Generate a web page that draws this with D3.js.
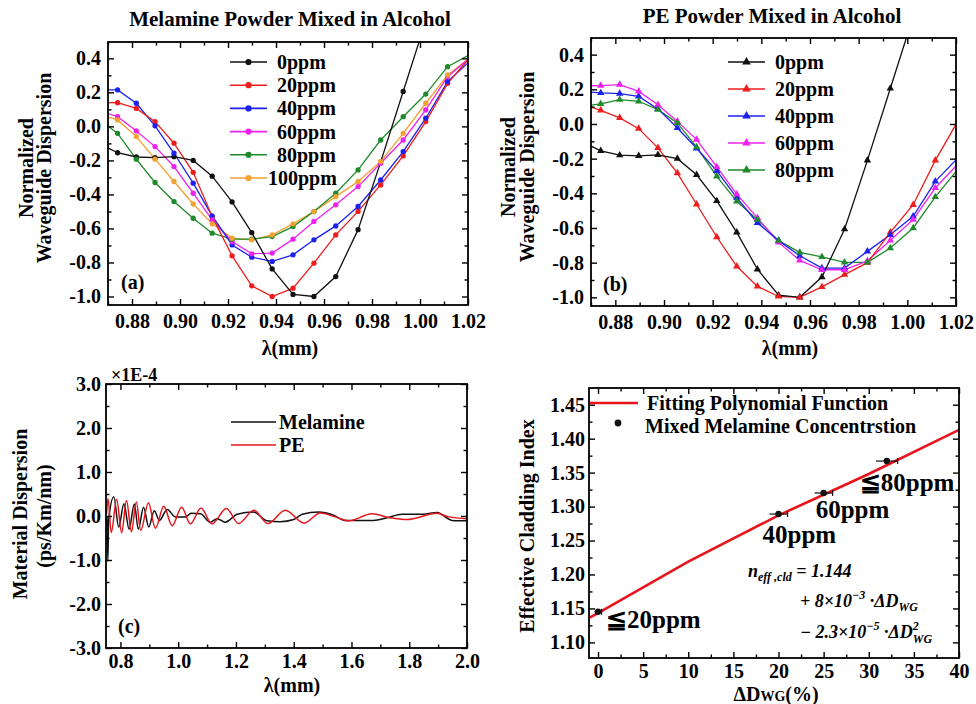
<!DOCTYPE html>
<html>
<head>
<meta charset="utf-8">
<script src="https://cdn.jsdelivr.net/npm/d3@7"></script>
<style>
body { margin: 0; background: #fff; }
</style>
</head>
<body>
<svg id="fig" width="976" height="704"></svg>
<script>
var SERIF = '"Liberation Serif","Times New Roman",serif';

// (a),(b): wavelength samples; first and last fall just outside the frame
var lam = [0.8655, 0.8740, 0.8818, 0.8896, 0.8975, 0.9055, 0.9134, 0.9217, 0.9299, 0.9384,
           0.9471, 0.9558, 0.9649, 0.9742, 0.9836, 0.9930, 1.0024, 1.0115, 1.0205];
// 0ppm is the same reference curve in both panels
var ppm0   = [-0.095, -0.155, -0.18, -0.184, -0.178, -0.2, -0.293, -0.444, -0.625, -0.838,
              -0.988, -1.0, -0.883, -0.607, -0.21, 0.205, 0.62, 1.0, 1.4];
var mel20  = [0.14, 0.139, 0.106, 0.028, -0.099, -0.27, -0.53, -0.761, -0.937, -1.0,
              -0.951, -0.804, -0.638, -0.50, -0.344, -0.174, 0.028, 0.253, 0.40];
var mel40  = [0.215, 0.214, 0.136, 0.003, -0.158, -0.334, -0.526, -0.697, -0.769, -0.794,
              -0.755, -0.667, -0.585, -0.471, -0.315, -0.148, 0.048, 0.263, 0.38];
var mel60  = [0.095, 0.057, -0.027, -0.119, -0.236, -0.393, -0.55, -0.677, -0.749, -0.745,
              -0.663, -0.559, -0.461, -0.354, -0.217, -0.08, 0.097, 0.292, 0.40];
var mel80  = [0.05, -0.041, -0.193, -0.33, -0.442, -0.54, -0.628, -0.663, -0.663, -0.648,
              -0.589, -0.501, -0.393, -0.256, -0.08, 0.057, 0.19, 0.351, 0.42];
var mel100 = [0.075, 0.038, -0.06, -0.193, -0.324, -0.456, -0.573, -0.657, -0.667, -0.638,
              -0.573, -0.501, -0.413, -0.324, -0.207, -0.041, 0.136, 0.302, 0.40];
var pe20   = [0.12, 0.079, 0.035, -0.027, -0.138, -0.283, -0.463, -0.652, -0.821, -0.937,
              -0.995, -1.0, -0.94, -0.869, -0.80, -0.625, -0.466, -0.21, 0.01];
var pe40   = [0.19, 0.179, 0.175, 0.159, 0.087, -0.023, -0.14, -0.27, -0.425, -0.571,
              -0.673, -0.76, -0.831, -0.831, -0.735, -0.639, -0.533, -0.331, -0.20];
var pe60   = [0.22, 0.221, 0.227, 0.188, 0.111, 0.015, -0.09, -0.248, -0.405, -0.542,
              -0.683, -0.787, -0.841, -0.841, -0.79, -0.671, -0.552, -0.369, -0.235];
var pe80   = [0.10, 0.116, 0.14, 0.131, 0.083, 0.006, -0.133, -0.302, -0.446, -0.552,
              -0.673, -0.741, -0.767, -0.798, -0.798, -0.716, -0.6, -0.421, -0.265];
var melNames = ["0ppm", "20ppm", "40ppm", "60ppm", "80ppm", "100ppm"];
var peNames  = ["0ppm", "20ppm", "40ppm", "60ppm", "80ppm"];
var colors   = ["#111111", "#ee1c1c", "#1c22ee", "#ee22ee", "#1f8a2a", "#f2a232"];

// (c): material dispersion, x1E-4
var cLamMel = [0.7535, 0.7565, 0.759, 0.777, 0.794, 0.812, 0.830, 0.848, 0.862, 0.880, 0.898, 0.917,
               0.935, 0.962, 0.990, 1.025, 1.045, 1.077, 1.111, 1.135, 1.163, 1.204, 1.261, 1.308,
               1.353, 1.400, 1.430, 1.486, 1.538, 1.578, 1.676, 1.723, 1.775, 1.850, 1.896, 1.948, 2.000];
var cMel    = [0.0, -1.03, -0.1, 0.44, -0.25, 0.28, -0.30, 0.27, -0.30, 0.20, -0.25, 0.12,
               -0.10, 0.15, -0.02, -0.02, 0.06, 0.05, -0.14, -0.06, -0.14, 0.04, 0.09, -0.11,
               -0.13, -0.08, 0.04, 0.09, 0.02, -0.10, -0.10, -0.04, 0.04, 0.04, 0.08, -0.10, -0.11];
var cLamPE  = [0.752, 0.757, 0.768, 0.787, 0.804, 0.821, 0.838, 0.855, 0.870, 0.897, 0.921, 0.950,
               0.979, 1.012, 1.042, 1.079, 1.117, 1.167, 1.209, 1.262, 1.310, 1.371, 1.436, 1.492,
               1.544, 1.590, 1.671, 1.734, 1.792, 1.896, 1.936, 2.000];
var cPE     = [0.05, 0.40, -0.38, 0.38, -0.38, 0.35, -0.36, 0.32, -0.33, 0.30, -0.28, 0.22,
               -0.22, 0.20, -0.18, 0.18, -0.18, 0.17, -0.17, 0.13, -0.17, 0.13, -0.16, 0.07,
               -0.02, -0.11, 0.05, -0.04, -0.08, 0.06, -0.02, -0.06];

// (d): effective cladding index vs delta D_WG
var dwg    = [0, 20, 25, 32];
var nEff   = [1.145, 1.289, 1.32, 1.367];
var dwgErr = [0.4, 1.0, 1.0, 1.2];
var fitDwg = [-1, 0, 10, 20, 30, 40];
var fitN   = [1.136, 1.143, 1.219, 1.287, 1.348, 1.413];
var concNames = ["\u226620ppm", "40ppm", "60ppm", "\u226680ppm"];

// tick values
var abX = [0.88, 0.90, 0.92, 0.94, 0.96, 0.98, 1.00, 1.02];
var abXMinor = [0.87, 0.89, 0.91, 0.93, 0.95, 0.97, 0.99, 1.01];
var abY = [-1.0, -0.8, -0.6, -0.4, -0.2, 0.0, 0.2, 0.4];
var abYMinor = [-0.9, -0.7, -0.5, -0.3, -0.1, 0.1, 0.3];
var cX = [0.8, 1.0, 1.2, 1.4, 1.6, 1.8, 2.0];
var cXMinor = [0.9, 1.1, 1.3, 1.5, 1.7, 1.9];
var cY = [-3, -2, -1, 0, 1, 2, 3];
var cYMinor = [-2.5, -1.5, -0.5, 0.5, 1.5, 2.5];
var dX = [0, 5, 10, 15, 20, 25, 30, 35, 40];
var dXMinor = [2.5, 7.5, 12.5, 17.5, 22.5, 27.5, 32.5, 37.5];
var dY = [1.10, 1.15, 1.20, 1.25, 1.30, 1.35, 1.40, 1.45];
var dYMinor = [1.125, 1.175, 1.225, 1.275, 1.325, 1.375, 1.425];

var svg = d3.select("#fig");
svg.append("rect").attr("width", 976).attr("height", 704).attr("fill", "#fff");

function fmt1(d) { return (d < 0 ? "-" : "") + Math.abs(d).toFixed(1); }
function fmt2(d) { return Math.abs(d).toFixed(2); }
function fmt0(d) { return String(d); }

function txt(g, x, y, s, size, anchor) {
    return g.append("text").attr("x", x).attr("y", y)
        .attr("font-family", SERIF).attr("font-weight", "bold")
        .attr("font-size", size || 20)
        .attr("text-anchor", anchor || "start").text(s);
}

function vtxt(g, x, y, s, size) {
    return g.append("text").attr("transform", "translate(" + x + "," + y + ") rotate(-90)")
        .attr("font-family", SERIF).attr("font-weight", "bold")
        .attr("font-size", size || 20).attr("text-anchor", "middle").text(s);
}

function ticks(g, axis, tr, vals, size, fmt, pad) {
    axis.tickValues(vals).tickSize(-size).tickPadding(pad || 0)
        .tickFormat(fmt || function () { return ""; });
    var a = g.append("g").attr("transform", tr).call(axis);
    a.select(".domain").remove();
    a.selectAll("line").attr("stroke-width", 1.4);
    a.attr("font-family", SERIF).attr("font-size", 20).attr("font-weight", "bold");
}

function panel(o) {
    var x = d3.scaleLinear().domain(o.xd).range([o.x0, o.x1]);
    var y = d3.scaleLinear().domain(o.yd).range([o.y1, o.y0]);
    var g = svg.append("g");
    g.append("clipPath").attr("id", "clip" + o.id).append("rect")
        .attr("x", o.x0).attr("y", o.y0)
        .attr("width", o.x1 - o.x0).attr("height", o.y1 - o.y0);
    var plot = g.append("g").attr("clip-path", "url(#clip" + o.id + ")");

    ticks(g, d3.axisBottom(x), "translate(0," + o.y1 + ")", o.xt, 6, o.xf, o.xpad);
    ticks(g, d3.axisBottom(x), "translate(0," + o.y1 + ")", o.xm, 3.5);
    ticks(g, d3.axisTop(x), "translate(0," + o.y0 + ")", o.xt, 6);
    ticks(g, d3.axisTop(x), "translate(0," + o.y0 + ")", o.xm, 3.5);
    ticks(g, d3.axisLeft(y), "translate(" + o.x0 + ",0)", o.yt, 6, o.yf, o.ypad);
    ticks(g, d3.axisLeft(y), "translate(" + o.x0 + ",0)", o.ym, 3.5);
    ticks(g, d3.axisRight(y), "translate(" + o.x1 + ",0)", o.yt, 6);
    ticks(g, d3.axisRight(y), "translate(" + o.x1 + ",0)", o.ym, 3.5);

    g.append("rect").attr("x", o.x0).attr("y", o.y0)
        .attr("width", o.x1 - o.x0).attr("height", o.y1 - o.y0)
        .attr("fill", "none").attr("stroke", "#000").attr("stroke-width", 1.8);
    return { g: g, plot: plot, x: x, y: y };
}

// ---------- (a) and (b) ----------
function dispersionPanel(o, series, names, marker, leg) {
    var p = panel(o);
    var line = d3.line()
        .x(function (d) { return p.x(d[0]); })
        .y(function (d) { return p.y(d[1]); });
    var shape = marker === "tri" ? d3.symbolTriangle : d3.symbolCircle;
    var size = marker === "tri" ? 24 : 22;
    series.forEach(function (vals, i) {
        var pts = lam.map(function (l, k) { return [l, vals[k]]; });
        var c = colors[i];
        p.plot.insert("path", ":first-child").attr("d", line(pts))
            .attr("fill", "none").attr("stroke", c).attr("stroke-width", 1.3);
        p.plot.append("g").selectAll("path").data(pts.slice(1, pts.length - 1)).enter()
            .append("path")
            .attr("transform", function (d) { return "translate(" + p.x(d[0]) + "," + p.y(d[1]) + ")"; })
            .attr("d", d3.symbol().type(shape).size(size))
            .attr("fill", c);
    });
    // legend
    names.forEach(function (n, i) {
        var yy = leg.y + i * leg.dy;
        p.g.append("line").attr("x1", leg.x).attr("x2", leg.x + 37)
            .attr("y1", yy).attr("y2", yy).attr("stroke", colors[i]).attr("stroke-width", 1.6);
        p.g.append("path").attr("transform", "translate(" + (leg.x + 18.5) + "," + yy + ")")
            .attr("d", d3.symbol().type(shape).size(size + 8)).attr("fill", colors[i]);
        txt(p.g, n === "100ppm" ? leg.x + 38 : leg.x + 47, yy + 7, n);
    });
    return p;
}

var pa = dispersionPanel({ id: "a", x0: 108, x1: 468, y0: 42, y1: 305,
        xd: [0.87, 1.02], yd: [-1.05, 0.496], xt: abX, xm: abXMinor, yt: abY, ym: abYMinor,
        xf: function (d) { return d.toFixed(2); }, yf: fmt1, xpad: 9, ypad: 7 },
    [ppm0, mel20, mel40, mel60, mel80, mel100], melNames, "circle", { x: 230, y: 62, dy: 23.2 });
txt(pa.g, 290, 26, "Melamine Powder Mixed in Alcohol", 21, "middle");
vtxt(pa.g, 33, 168, "Normalized");
vtxt(pa.g, 51, 168, "Waveguide Dispersion");
txt(pa.g, 290, 355, "\u03bb(mm)", 20, "middle");
txt(pa.g, 121, 289, "(a)");

var pb = dispersionPanel({ id: "b", x0: 591, x1: 956, y0: 38, y1: 306,
        xd: [0.87, 1.02], yd: [-1.05, 0.496], xt: abX, xm: abXMinor, yt: abY, ym: abYMinor,
        xf: function (d) { return d.toFixed(2); }, yf: fmt1, xpad: 9, ypad: 7 },
    [ppm0, pe20, pe40, pe60, pe80], peNames, "tri", { x: 728, y: 62, dy: 27 });
txt(pb.g, 772, 23, "PE Powder Mixed in Alcohol", 21, "middle");
vtxt(pb.g, 515, 167, "Normalized");
vtxt(pb.g, 534, 167, "Waveguide Dispersion");
txt(pb.g, 790, 355, "\u03bb(mm)", 20, "middle");
txt(pb.g, 603, 291, "(b)");

// ---------- (c) ----------
var pc = panel({ id: "c", x0: 106, x1: 467, y0: 384, y1: 648,
    xd: [0.75, 2.0], yd: [-3, 3], xt: cX, xm: cXMinor, yt: cY, ym: cYMinor,
    xf: fmt1, yf: fmt1, xpad: 6, ypad: 5 });
var cline = d3.line()
    .curve(d3.curveMonotoneX)
    .x(function (d) { return pc.x(d[0]); })
    .y(function (d) { return pc.y(d[1]); });
pc.plot.append("path")
    .attr("d", cline(cLamMel.map(function (l, i) { return [l, cMel[i]]; })))
    .attr("fill", "none").attr("stroke", "#111").attr("stroke-width", 1.5);
pc.plot.append("path")
    .attr("d", cline(cLamPE.map(function (l, i) { return [l, cPE[i]]; })))
    .attr("fill", "none").attr("stroke", "#e8141c").attr("stroke-width", 1.5);
pc.g.append("line").attr("x1", 231).attr("x2", 276).attr("y1", 422).attr("y2", 422)
    .attr("stroke", "#111").attr("stroke-width", 1.6);
txt(pc.g, 279, 429, "Melamine");
pc.g.append("line").attr("x1", 231).attr("x2", 276).attr("y1", 445).attr("y2", 445)
    .attr("stroke", "#e8141c").attr("stroke-width", 1.6);
txt(pc.g, 279, 452, "PE");
txt(pc.g, 111, 381, "\u00d71E-4", 18);
vtxt(pc.g, 27, 514, "Material Dispersion");
vtxt(pc.g, 51, 516, "(ps/Km/nm)");
txt(pc.g, 292, 692, "\u03bb(mm)", 20, "middle");
txt(pc.g, 118, 633, "(c)");

// ---------- (d) ----------
var pd = panel({ id: "d", x0: 589, x1: 959, y0: 388, y1: 658,
    xd: [-1, 40], yd: [1.077, 1.4746], xt: dX, xm: dXMinor, yt: dY, ym: dYMinor,
    xf: fmt0, yf: fmt2, xpad: 6, ypad: 4 });
pd.plot.append("path")
    .attr("d", d3.line()
        .x(function (d) { return pd.x(d[0]); })
        .y(function (d) { return pd.y(d[1]); })(fitDwg.map(function (v, i) { return [v, fitN[i]]; })))
    .attr("fill", "none").attr("stroke", "#e8141c").attr("stroke-width", 2.6);
var pts = pd.plot.append("g").selectAll("g")
    .data(dwg.map(function (v, i) { return { x: v, y: nEff[i], e: dwgErr[i] }; }))
    .enter().append("g");
pts.append("line")
    .attr("x1", function (d) { return pd.x(d.x - d.e); })
    .attr("x2", function (d) { return pd.x(d.x + d.e); })
    .attr("y1", function (d) { return pd.y(d.y); })
    .attr("y2", function (d) { return pd.y(d.y); })
    .attr("stroke", "#111").attr("stroke-width", 1.2);
pts.append("line")
    .attr("x1", function (d) { return pd.x(d.x + d.e); })
    .attr("x2", function (d) { return pd.x(d.x + d.e); })
    .attr("y1", function (d) { return pd.y(d.y) - 3; })
    .attr("y2", function (d) { return pd.y(d.y) + 3; })
    .attr("stroke", "#111").attr("stroke-width", 1.2);
pts.append("circle")
    .attr("cx", function (d) { return pd.x(d.x); })
    .attr("cy", function (d) { return pd.y(d.y); })
    .attr("r", 3.2).attr("fill", "#111");

// concentration labels, offset from each point
var concOff = [[8, 16], [-16, 29], [-8, 25], [-27, 30]];
concNames.forEach(function (n, i) {
    txt(pd.g, pd.x(dwg[i]) + concOff[i][0], pd.y(nEff[i]) + concOff[i][1], n, 25);
});

pd.g.append("line").attr("x1", 590).attr("x2", 638).attr("y1", 403).attr("y2", 403)
    .attr("stroke", "#e8141c").attr("stroke-width", 2.6);
txt(pd.g, 647, 410, "Fitting Polynomial Function");
pd.g.append("circle").attr("cx", 618).attr("cy", 423).attr("r", 3.4).attr("fill", "#111");
txt(pd.g, 645, 433, "Mixed Melamine Concentrstion");

var eq = pd.g.append("g").attr("font-family", SERIF).attr("font-weight", "bold")
    .attr("font-style", "italic").attr("font-size", 18);
var e1 = eq.append("text").attr("x", 748).attr("y", 577);
e1.append("tspan").text("n");
e1.append("tspan").attr("font-size", 12).attr("dy", 4).text("eff ,cld");
e1.append("tspan").attr("dy", -4).text(" = 1.144");
var e2 = eq.append("text").attr("x", 800).attr("y", 607);
e2.append("tspan").text("+ 8\u00d710");
e2.append("tspan").attr("font-size", 12).attr("dy", -8).text("\u22123");
e2.append("tspan").attr("dy", 8).text(" \u00b7\u0394D");
e2.append("tspan").attr("font-size", 12).attr("dy", 4).text("WG");
var e3 = eq.append("text").attr("x", 800).attr("y", 638);
e3.append("tspan").text("\u2212 2.3\u00d710");
e3.append("tspan").attr("font-size", 12).attr("dy", -8).text("\u22125");
e3.append("tspan").attr("dy", 8).text(" \u00b7\u0394D");
e3.append("tspan").attr("font-size", 12).attr("dy", -8).text("2");
e3.append("tspan").attr("font-size", 12).attr("dx", -6).attr("dy", 13).text("WG");

vtxt(pd.g, 534, 526, "Effective Cladding Index");
var xt = txt(pd.g, 776, 701, "\u0394D", 20, "middle");
xt.append("tspan").attr("font-size", 14).text("WG");
xt.append("tspan").text("(%)");
</script>
</body>
</html>
